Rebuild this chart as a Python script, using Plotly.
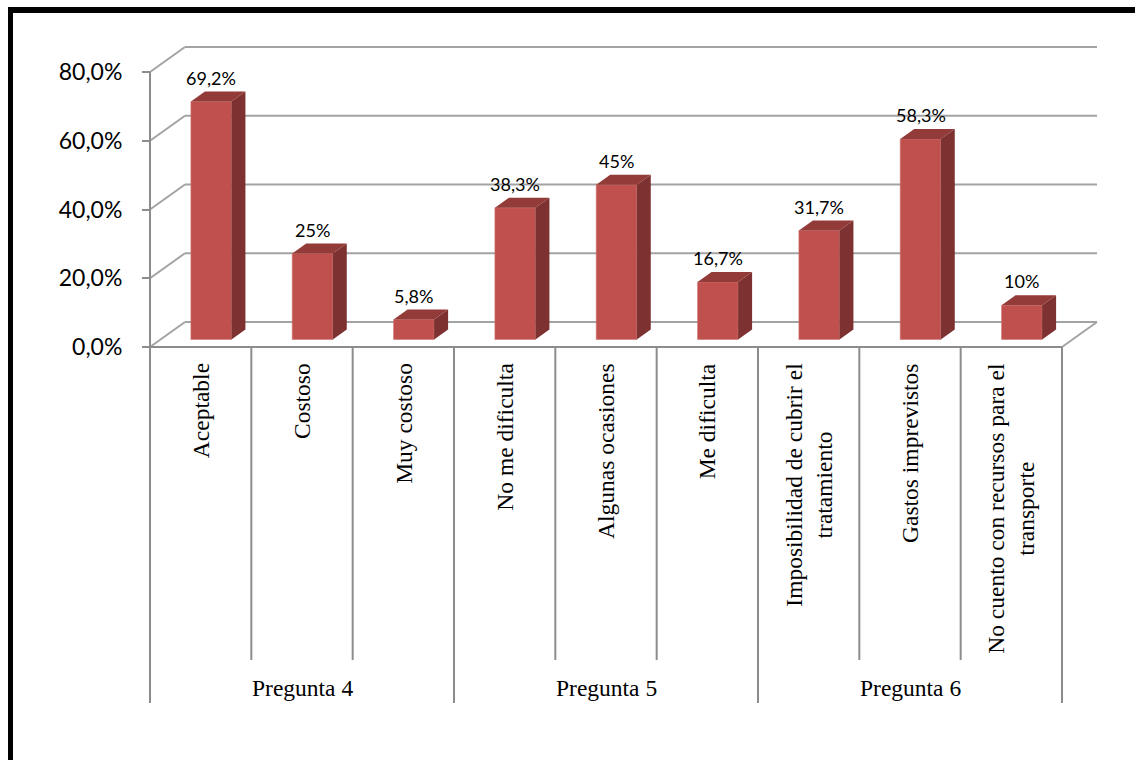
import plotly.graph_objects as go

# ---------------- data ----------------
categories = [
    "Aceptable", "Costoso", "Muy costoso",
    "No me dificulta", "Algunas ocasiones", "Me dificulta",
    "Imposibilidad de cubrir el<br>tratamiento", "Gastos imprevistos",
    "No cuento con recursos para el<br>transporte",
]
groups = ["Pregunta 4", "Pregunta 5", "Pregunta 6"]
group_sizes = [3, 3, 3]
values = [69.2, 25, 5.8, 38.3, 45, 16.7, 31.7, 58.3, 10]
value_labels = ["69,2%", "25%", "5,8%", "38,3%", "45%", "16,7%", "31,7%", "58,3%", "10%"]
y_ticks = [0, 20, 40, 60, 80]
y_tick_labels = ["0,0%", "20,0%", "40,0%", "60,0%", "80,0%"]

# ---------------- geometry / style ----------------
W, H = 1135, 760
X0_PX, XN_PX = 150, 1062      # front floor edge, left/right
Y0_PX, YTOP_PX = 347, 72      # 0 % and 80 % on the front axis
n = len(categories)
SX = (XN_PX - X0_PX) / n
SY = (Y0_PX - YTOP_PX) / y_ticks[-1]
DX = 35 / SX                  # depth offset (x units)
DY = 25 / SY                  # depth offset (y units)
D0, D1 = 0.3, 0.7             # bar front / back depth
BAR_W = 0.4

FRONT = "#C0504D"
TOP = "#933B39"
SIDE = "#7D3130"
GRID = "#A3A3A3"
AXIS = "#8C8C8C"


def py2y(py):
    return (Y0_PX - py) / SY


fig = go.Figure()

# back wall grid lines + connectors to the front axis + floor right edge
# (shapes on the data axes, drawn below the traces)
shapes = []
for t in y_ticks:
    shapes.append(dict(type="line", xref="x", yref="y", x0=0, y0=t, x1=DX, y1=t + DY,
                       layer="below", line=dict(color=GRID, width=2)))
    shapes.append(dict(type="line", xref="x", yref="y", x0=DX, y0=t + DY, x1=n + DX, y1=t + DY,
                       layer="below", line=dict(color=GRID, width=2)))
shapes.append(dict(type="line", xref="x", yref="y", x0=n, y0=0, x1=n + DX, y1=DY,
                   layer="below", line=dict(color=GRID, width=2)))

# bars: front face
base = D0 * DY
xc = [i + 0.5 + D0 * DX for i in range(n)]
fig.add_trace(go.Bar(x=xc, y=values, base=base, width=BAR_W,
                     marker=dict(color=FRONT, line=dict(width=0.6, color="#D07572"))))

# bars: side and top faces
ddx, ddy = (D1 - D0) * DX, (D1 - D0) * DY
sx, sy, tx, ty = [], [], [], []
for c, v in zip(xc, values):
    xl, xr = c - BAR_W / 2, c + BAR_W / 2
    top = base + v
    sx += [xr, xr + ddx, xr + ddx, xr, xr, None]
    sy += [base, base + ddy, top + ddy, top, base, None]
    tx += [xl, xr, xr + ddx, xl + ddx, xl, None]
    ty += [top, top, top + ddy, top + ddy, top, None]
fig.add_trace(go.Scatter(x=sx, y=sy, mode="lines", fill="toself", fillcolor=SIDE,
                         line=dict(width=0, color=SIDE), hoverinfo="skip"))
fig.add_trace(go.Scatter(x=tx, y=ty, mode="lines", fill="toself", fillcolor=TOP,
                         line=dict(width=0, color=TOP), hoverinfo="skip"))

# front axis, floor front edge and category dividers
y_inner = py2y(660)
y_outer = py2y(703)
ax, ay = [0, 0, None, 0, n, None], [y_ticks[-1], 0, None, 0, 0, None]
bounds = [0]
for s in group_sizes:
    bounds.append(bounds[-1] + s)
for i in range(n + 1):
    ax += [i, i, None]
    ay += [0, y_outer if i in bounds else y_inner, None]
fig.add_trace(go.Scatter(x=ax, y=ay, mode="lines",
                         line=dict(color=AXIS, width=2), hoverinfo="skip"))

annotations = []
# value labels
for c, v, lab in zip(xc, values, value_labels):
    annotations.append(dict(x=c, y=base + v, text=lab, showarrow=False,
                            yshift=24, xanchor="center", yanchor="middle",
                            font=dict(family="Lato", size=18, color="black")))
# category labels
for i, cat in enumerate(categories):
    annotations.append(dict(x=i + 0.5, y=py2y(361), text=cat, showarrow=False,
                            textangle=-90, xanchor="center", yanchor="top",
                            align="center",
                            font=dict(family="Liberation Serif", size=23.5, color="black")))
# group labels
for g, s, b in zip(groups, group_sizes, bounds):
    annotations.append(dict(x=b + s / 2, y=py2y(688), text=g, showarrow=False,
                            xanchor="center", yanchor="middle",
                            font=dict(family="Liberation Serif", size=23.5, color="black")))

# black frame (left and top edges)
shapes += [
    dict(type="rect", xref="paper", yref="paper", x0=8 / W, x1=13 / W,
         y0=0, y1=1 - 7 / H, fillcolor="black", line=dict(width=0)),
    dict(type="rect", xref="paper", yref="paper", x0=8 / W, x1=1,
         y0=1 - 13 / H, y1=1 - 7 / H, fillcolor="black", line=dict(width=0)),
]

fig.update_layout(
    width=W, height=H,
    margin=dict(l=0, r=0, t=0, b=0),
    paper_bgcolor="white", plot_bgcolor="white",
    showlegend=False,
    annotations=annotations,
    shapes=shapes,
    xaxis=dict(visible=False, range=[-X0_PX / SX, (W - X0_PX) / SX], fixedrange=True),
    yaxis=dict(range=[py2y(H), py2y(0)], anchor="free", position=X0_PX / W,
               showgrid=False, zeroline=False, showline=False,
               tickvals=y_ticks, ticktext=y_tick_labels,
               ticks="outside", ticklen=8, tickwidth=2, tickcolor=AXIS,
               ticklabelstandoff=15,
               tickfont=dict(family="Lato", size=23, color="black"),
               fixedrange=True),
)

fig.write_html("out.html")
